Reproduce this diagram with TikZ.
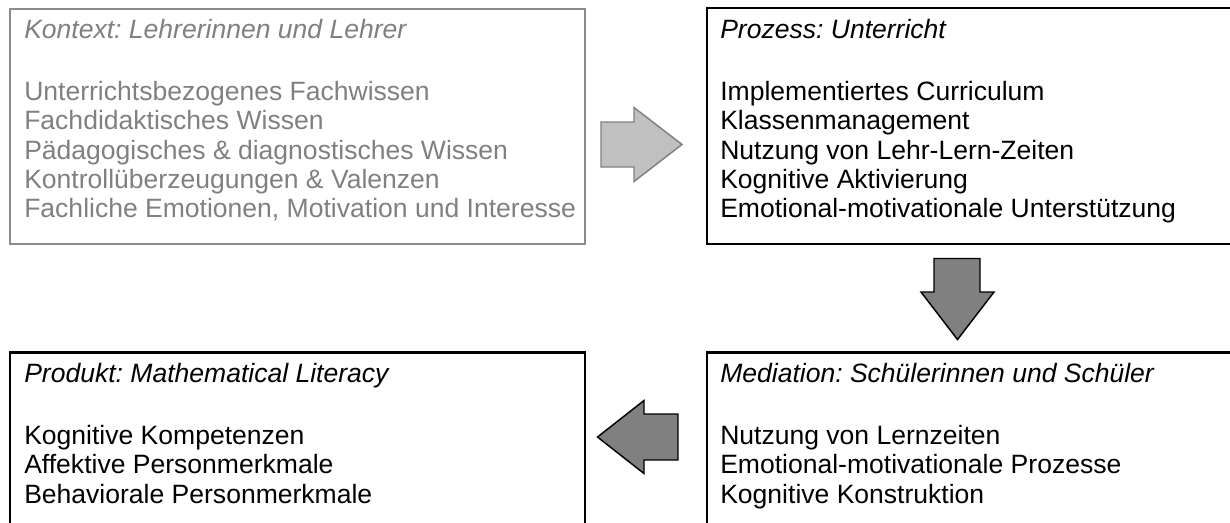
\documentclass[tikz,border=0pt]{standalone}
\usepackage{fontspec}
\setmainfont{Liberation Sans}
\usetikzlibrary{fit}
\definecolor{ctxgray}{RGB}{128,128,128}
\definecolor{ctxborder}{RGB}{140,140,140}
\definecolor{lightfill}{RGB}{192,192,192}
\definecolor{darkfill}{RGB}{128,128,128}
\frenchspacing
\begin{document}
\begin{tikzpicture}[x=0.75pt,y=-0.75pt,
  boxline/.style={draw=black, line width=1.6pt, inner sep=0pt},
  grayboxline/.style={draw=ctxborder, line width=1.5pt, inner sep=0pt},
  txt/.style={anchor=base west, inner sep=0pt, font=\fontsize{19.9}{22}\selectfont},
  ttl/.style={anchor=base west, inner sep=0pt, font=\fontsize{19.9}{22}\selectfont\itshape},
  lightarrow/.style={fill=lightfill, draw=ctxgray, line width=1.1pt, line join=miter},
  darkarrow/.style={fill=darkfill, draw=black, line width=1.1pt, line join=miter},
]
\useasboundingbox (0,0) rectangle (1230,522);
\clip (0,0) rectangle (1230,522);
\fill[white] (0,0) rectangle (1230,522);

% boxes
\coordinate (A1) at (10,9); \coordinate (A2) at (585,244);
\node[grayboxline, fit=(A1)(A2)] (ctx) {};
\coordinate (B1) at (707,8); \coordinate (B2) at (1245,244);
\node[boxline, fit=(B1)(B2)] (proz) {};
\coordinate (C1) at (10,352.5); \coordinate (C2) at (585,545);
\node[boxline, fit=(C1)(C2)] (prod) {};
\coordinate (D1) at (707,352.5); \coordinate (D2) at (1245,545);
\node[boxline, fit=(D1)(D2)] (med) {};

% Kontext texts
\begin{scope}[every node/.append style={text=ctxgray}]
\node[ttl] (ctxT) at (24,38) {Kontext: Lehrerinnen und Lehrer};
\node[txt] (ctx1) at (24,100.5) {Unterrichtsbezogenes Fachwissen};
\node[txt] (ctx2) at (24,129.8) {Fachdidaktisches Wissen};
\node[txt] (ctx3) at (24,159.1) {Pädagogisches \& diagnostisches Wissen};
\node[txt] (ctx4) at (24,188.4) {Kontrollüberzeugungen \& Valenzen};
\node[txt] (ctx5) at (24,217.7) {Fachliche Emotionen, Motivation und Interesse};
\end{scope}

% Prozess texts
\node[ttl] (przT) at (720,38) {Prozess: Unterricht};
\node[txt] (prz1) at (720,100.5) {Implementiertes Curriculum};
\node[txt] (prz2) at (720,129.8) {Klassenmanagement};
\node[txt] (prz3) at (720,159.1) {Nutzung von Lehr-Lern-Zeiten};
\node[txt] (prz4) at (720,188.4) {Kognitive Aktivierung};
\node[txt] (prz5) at (720,217.7) {Emotional-motivationale Unterstützung};

% Produkt texts
\node[ttl] (prdT) at (24,382) {Produkt: Mathematical Literacy};
\node[txt] (prd1) at (24,444) {Kognitive Kompetenzen};
\node[txt] (prd2) at (24,473.5) {Affektive Personmerkmale};
\node[txt] (prd3) at (24,503) {Behaviorale Personmerkmale};

% Mediation texts
\node[ttl] (medT) at (720,382) {Mediation: Schülerinnen und Schüler};
\node[txt] (med1) at (720,444) {Nutzung von Lernzeiten};
\node[txt] (med2) at (720,473.5) {Emotional-motivationale Prozesse};
\node[txt] (med3) at (720,503) {Kognitive Konstruktion};

% block arrows
\draw[lightarrow] (601,122) -- (634,122) -- (634,107.5) -- (682,144.5) -- (634,181.5) -- (634,167) -- (601,167) -- cycle;
\draw[darkarrow] (934,258.5) -- (980,258.5) -- (980,292) -- (994,292) -- (957.5,339.5) -- (921,292) -- (934,292) -- cycle;
\draw[darkarrow] (678,414) -- (644,414) -- (644,400.5) -- (597.5,437) -- (644,473.5) -- (644,460) -- (678,460) -- cycle;
\end{tikzpicture}
\end{document}
